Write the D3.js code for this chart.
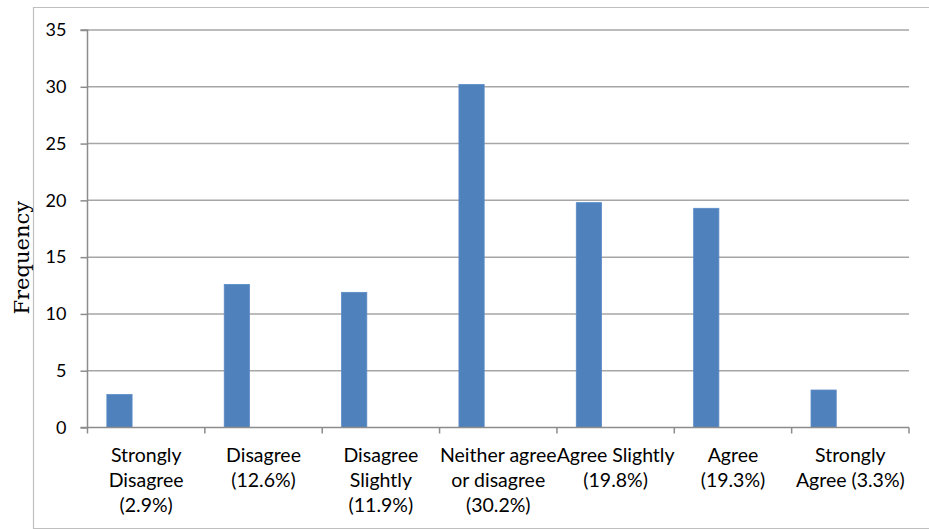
<!DOCTYPE html>
<html><head><meta charset="utf-8">
<script src="https://cdn.jsdelivr.net/npm/d3@7"></script>
<style>body{margin:0;background:#fff}svg{display:block}</style>
</head><body>
<svg id="c" width="929" height="529"></svg>
<script>
const categories = ["Strongly\nDisagree\n(2.9%)","Disagree\n(12.6%)","Disagree\nSlightly\n(11.9%)","Neither agree\nor disagree\n(30.2%)","Agree Slightly\n(19.8%)","Agree\n(19.3%)","Strongly\nAgree (3.3%)"];
const frequency = [2.9,12.6,11.9,30.2,19.8,19.3,3.3];
const yTicks = [0,5,10,15,20,25,30,35];

const svg = d3.select("#c");
const m = {l:87.5, r:20, t:30, b:101.5};
const W = 929, H = 529;
const x = d3.scaleBand().domain(categories).range([m.l, W-m.r]).padding(0);
const y = d3.scaleLinear().domain([0,35]).range([H-m.b, m.t]);
const tickFont = "Lato, 'Open Sans', sans-serif";

// outer border
svg.append("path").attr("d",`M929,7.5H33.5V528.5H929`).attr("fill","none").attr("stroke","#bfbfbf").attr("stroke-width",1.2);

// gridlines
svg.append("g").selectAll("line").data(yTicks.filter(d=>d>0)).join("line")
  .attr("x1",m.l).attr("x2",W-m.r).attr("y1",d=>y(d)).attr("y2",d=>y(d))
  .attr("stroke","#a6a6a6").attr("stroke-width",1.5);

// bars
svg.append("g").selectAll("rect").data(frequency).join("rect")
  .attr("x",(d,i)=>x(categories[i])+x.bandwidth()*0.165)
  .attr("width",x.bandwidth()*0.215)
  .attr("y",d=>y(d)).attr("height",d=>y(0)-y(d))
  .attr("fill","#4f81bd").attr("stroke","#5a8bc6").attr("stroke-width",0.8);

// y axis
const ya = svg.append("g").attr("transform",`translate(${m.l},0)`)
  .call(d3.axisLeft(y).tickValues(yTicks).tickSize(7).tickPadding(14));
ya.select(".domain").attr("stroke","#8c8c8c").attr("stroke-width",1.5).attr("d",`M-7,${y(35)}H0V${y(0)}H-7`);
ya.selectAll(".tick line").attr("stroke","#8c8c8c").attr("stroke-width",1.5);
ya.selectAll(".tick text").attr("font-family",tickFont).attr("font-size",18).attr("fill","#000");

// x axis
const xa = svg.append("g").attr("transform",`translate(0,${y(0)})`)
  .call(d3.axisBottom(x).tickSize(0).tickFormat(""));
xa.select(".domain").attr("stroke","#8c8c8c").attr("stroke-width",1.5).attr("d",`M${m.l},0H${W-m.r}`);
const bounds = categories.map(c=>x(c)).concat([W-m.r]);
xa.append("g").selectAll("line").data(bounds).join("line")
  .attr("x1",d=>d).attr("x2",d=>d).attr("y1",0).attr("y2",6)
  .attr("stroke","#8c8c8c").attr("stroke-width",1.5);

// category labels
const lab = svg.append("g");
categories.forEach(c=>{
  const t = lab.append("text").attr("x",x(c)+x.bandwidth()/2).attr("y",y(0)+34)
    .attr("text-anchor","middle").attr("font-family",tickFont).attr("font-size",19.5).attr("fill","#000");
  c.split("\n").forEach((line,j)=>{
    t.append("tspan").attr("x",x(c)+x.bandwidth()/2).attr("dy",j===0?0:25).text(line);
  });
});

// y label
svg.append("text").attr("transform",`translate(29,${(y(0)+y(35))/2+29}) rotate(-90)`)
  .attr("text-anchor","middle").attr("font-family","'DejaVu Serif', serif").attr("font-size",21)
  .attr("fill","#000").text("Frequency");
</script>
</body></html>
